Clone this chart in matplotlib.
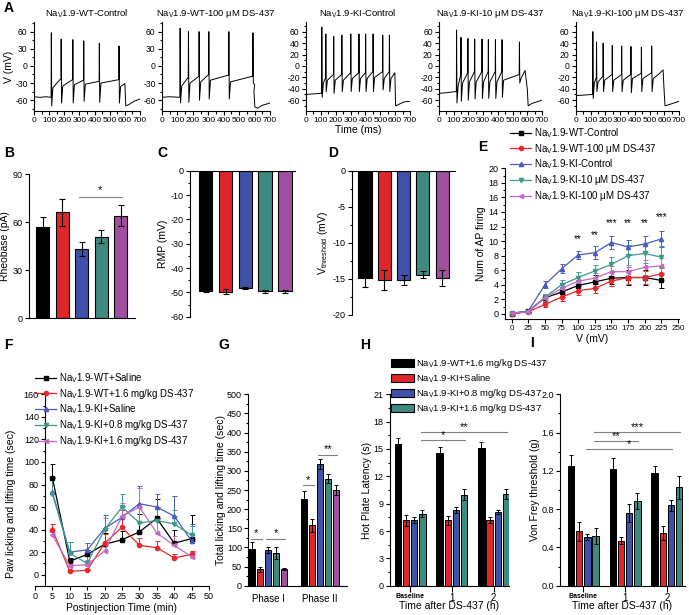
import matplotlib
matplotlib.use('Agg')
import matplotlib.pyplot as plt
from matplotlib.ticker import MultipleLocator, FormatStrFormatter
from matplotlib.patches import Patch
from matplotlib.lines import Line2D
import numpy as np

plt.rcParams['font.family'] = ['Liberation Sans', 'DejaVu Sans']
plt.rcParams['mathtext.fontset'] = 'custom'
plt.rcParams['mathtext.rm'] = 'Liberation Sans'
plt.rcParams['mathtext.it'] = 'Liberation Sans:italic'
plt.rcParams['font.size'] = 6.5
plt.rcParams['axes.linewidth'] = 0.8
plt.rcParams['axes.unicode_minus'] = False

NAV = r'Na$_{\rm V}$1.9'

# ---- A: action potential traces (vertices)
a_titles = [NAV + '-WT-Control', NAV + '-WT-100 μM DS-437', NAV + '-KI-Control',
            NAV + '-KI-10 μM DS-437', NAV + '-KI-100 μM DS-437']
a_head = [[(0, -54), (40, -55), (80, -54), (110, -55)],
          [(0, -55), (50, -54), (112, -55)],
          [(0, -50), (50, -49), (100, -48)],
          [(0, -48), (50, -47), (110, -45)],
          [(0, -52), (60, -51), (110, -50)]]
a_spike_t = [[113, 178, 255, 327, 430, 560],
             [116, 170, 239, 302, 432, 588],
             [105, 132, 185, 240, 300, 355, 400, 450, 515, 560],
             [118, 148, 195, 241, 291, 334, 382, 427, 545],
             [113, 138, 183, 245, 309, 372, 443, 513]]
a_pre = [[-55, -22, -24, -25, -27, -24],
         [-55, -20, -18, -15, -16, -18],
         [-48, -20, -15, -15, -12, -12, -12, -10, -10, -10],
         [-45, -15, -12, -10, -10, -10, -10, -10, -15],
         [-50, -20, -18, -15, -15, -15, -13, -12]]
a_peak = [[58, 47, 46, 44, 40, 35],
          [66, 60, 60, 60, 60, 58],
          [68, 56, 52, 54, 56, 56, 56, 56, 54, 54],
          [63, 50, 48, 47, 47, 46, 46, 46, 42],
          [60, 42, 40, 36, 35, 34, 33, 35]]
a_trough = [[-70, -65, -65, -62, -64, -65],
            [-65, -64, -60, -58, -58, -30],
            [-55, -45, -48, -45, -45, -45, -45, -45, -42, -45],
            [-65, -62, -60, -58, -57, -57, -57, -55, -30],
            [-57, -45, -45, -45, -45, -47, -45, -45]]
a_post = [[-38, -35, -33, -32, -30, -36],
          [-35, -30, -28, -25, -28, -33],
          [-30, -25, -25, -25, -22, -22, -22, -20, -22, -22],
          [-35, -30, -28, -28, -28, -28, -28, -25, -22],
          [-30, -28, -25, -25, -25, -22, -22, -22]]
a_tail = [[(600, -31), (606, -70), (625, -68), (660, -62), (700, -58)],
          [(596, -45), (602, -72), (620, -74), (650, -69), (700, -65)],
          [(598, -12), (603, -70), (620, -68), (660, -63), (700, -62)],
          [(585, -8), (600, -40), (606, -70), (630, -66), (700, -60)],
          [(560, -15), (592, -7), (598, -40), (605, -70), (630, -68), (700, -62)]]

# ---- B, C, D bars (5 groups)
bcd_colors = ['#000000', '#e0262b', '#3f51a8', '#3e8a7e', '#a0509f']
b_vals = [57, 66, 43, 51, 64]
b_err = [6, 8.3, 4.4, 4, 6.5]
c_vals = [-49.4, -49.8, -48.3, -49.6, -49.6]
c_err = [0.6, 1.0, 0.5, 0.7, 0.6]
d_vals = [-14.9, -15.2, -15.1, -14.4, -14.9]
d_err = [1.2, 1.4, 0.7, 0.5, 1.1]

# ---- E: AP firing vs voltage
e_x = [0, 25, 50, 75, 100, 125, 150, 175, 200, 225]
e_labels = [NAV + '-WT-Control', NAV + '-WT-100 μM DS-437', NAV + '-KI-Control',
            NAV + '-KI-10 μM DS-437', NAV + '-KI-100 μM DS-437']
e_vals = [[0, 0.4, 2.2, 3.0, 3.9, 4.4, 4.9, 5.0, 5.0, 4.6],
          [0, 0.3, 1.3, 2.3, 3.2, 3.5, 4.5, 5.0, 5.0, 5.5],
          [0.1, 0.4, 4.0, 6.2, 8.1, 8.4, 9.8, 9.2, 9.6, 10.3],
          [0.1, 0.3, 2.3, 4.0, 5.0, 5.9, 6.8, 8.0, 8.3, 7.8],
          [0.1, 0.3, 2.2, 3.5, 4.5, 4.9, 5.8, 5.8, 6.4, 6.6]]
e_err = [[0.1, 0.2, 0.5, 0.7, 0.8, 0.9, 0.8, 1.0, 1.0, 1.0],
         [0.1, 0.2, 0.4, 0.5, 0.6, 0.6, 0.7, 0.9, 0.9, 0.9],
         [0.1, 0.2, 0.5, 0.6, 0.6, 0.9, 0.9, 1.0, 1.1, 1.1],
         [0.1, 0.2, 0.5, 0.6, 0.7, 0.8, 1.0, 1.5, 1.3, 1.5],
         [0.1, 0.2, 0.5, 0.6, 0.7, 0.7, 0.8, 0.9, 1.0, 1.1]]
e_star_x = [100, 125, 150, 175, 200, 225]
e_star_y = [9.6, 10.2, 11.8, 11.8, 11.8, 12.6]
e_star_txt = ['**', '**', '***', '**', '**', '***']
line_colors = ['#000000', '#e8282b', '#4a5cc0', '#3d9a8a', '#c46ac4']
markers = ['s', 'o', '^', 'v', '<']

# ---- F: formalin time course
f_x = [5, 10, 15, 20, 25, 30, 35, 40, 45]
f_labels = [NAV + '-WT+Saline', NAV + '-WT+1.6 mg/kg DS-437', NAV + '-KI+Saline',
            NAV + '-KI+0.8 mg/kg DS-437', NAV + '-KI+1.6 mg/kg DS-437']
f_vals = [[86, 12, 18, 27, 31, 38, 50, 28, 32],
          [40, 3, 4, 28, 42, 26, 24, 15, 18],
          [73, 20, 22, 41, 51, 63, 60, 52, 30],
          [72, 19, 10, 40, 60, 46, 48, 45, 35],
          [35, 8, 9, 21, 52, 60, 37, 26, 16]]
f_err = [[12, 3, 4, 10, 8, 16, 17, 12, 21],
         [5, 1, 1, 8, 15, 7, 6, 3, 3],
         [14, 9, 6, 12, 10, 16, 12, 18, 15],
         [15, 10, 7, 10, 12, 14, 12, 12, 8],
         [3, 3, 4, 6, 12, 17, 12, 8, 4]]

# ---- G: total licking, phase I / II
g_groups = ['Phase I', 'Phase II']
g_vals = [[97, 227], [43, 158], [94, 317], [86, 280], [43, 250]]
g_err = [[17, 20], [6, 17], [8, 13], [15, 12], [3, 13]]
g_sig = [(0, 0, 1, 122, '*'), (0, 2, 4, 122, '*'), (1, 0, 1, 262, '*'), (1, 2, 4, 342, '**')]

# ---- H, I: hot plate and von Frey
hi_groups = ['Baseline', '1', '2']
hi_labels = [NAV + '-WT+1.6 mg/kg DS-437', NAV + '-KI+Saline',
             NAV + '-KI+0.8 mg/kg DS-437', NAV + '-KI+1.6 mg/kg DS-437']
hi_colors = ['#000000', '#e0262b', '#3f51a8', '#3e8a7e']
h_vals = [[15.5, 14.6, 15.1], [7.2, 7.2, 7.2], [7.2, 8.3, 8.1], [7.9, 10.0, 10.05]]
h_err = [[0.7, 0.6, 0.7], [0.6, 0.5, 0.3], [0.35, 0.3, 0.25], [0.4, 0.6, 0.55]]
h_sig = [(0, 3, 1, 3, 16.0, '*'), (0, 3, 2, 3, 16.9, '**')]
i_vals = [[1.25, 1.22, 1.18], [0.57, 0.47, 0.55], [0.51, 0.76, 0.84], [0.52, 0.885, 1.03]]
i_err = [[0.12, 0.11, 0.075], [0.1, 0.035, 0.07], [0.03, 0.09, 0.06], [0.08, 0.08, 0.12]]
i_sig = [(0, 3, 2, 3, 1.61, '***'), (0, 3, 1, 3, 1.51, '**'), (0, 2, 2, 2, 1.425, '*')]

W, H = 689, 615
fig = plt.figure(figsize=(W / 100, H / 100), dpi=100)


def add_ax(l, t, r, b):
    return fig.add_axes([l / W, 1 - b / H, (r - l) / W, (b - t) / H])


def style(ax, labelsize=6.5):
    ax.spines['top'].set_visible(False)
    ax.spines['right'].set_visible(False)
    ax.tick_params(direction='out', length=3, width=0.8, labelsize=labelsize, pad=1.5)
    ax.tick_params(which='minor', direction='out', length=1.8, width=0.8)


def letter(x, y, s):
    fig.text(x / W, 1 - y / H, s, fontsize=10, fontweight='bold', ha='left', va='center')


def build_trace(i):
    pts = list(a_head[i])
    for k, t in enumerate(a_spike_t[i]):
        pts += [(t, a_pre[i][k]), (t + 1.5, a_peak[i][k]), (t + 4, a_trough[i][k]), (t + 12, a_post[i][k])]
    pts += a_tail[i]
    return [p[0] for p in pts], [p[1] for p in pts]


# ================= A
a_lr = [(34, 140), (162, 270), (306, 410), (439, 542), (576, 679)]
for i in range(5):
    l, r = a_lr[i]
    ax = add_ax(l, 22, r, 111)
    style(ax, 6.2)
    tx, tv = build_trace(i)
    ax.plot(tx, tv, color='k', lw=0.7)
    ax.set_xlim(0, 700)
    ax.set_ylim(-79, 77)
    ax.xaxis.set_major_locator(MultipleLocator(100))
    ax.xaxis.set_minor_locator(MultipleLocator(50))
    ax.tick_params(axis='x', labelsize=6, pad=1)
    if i < 2:
        ax.yaxis.set_major_locator(MultipleLocator(30))
        ax.yaxis.set_minor_locator(MultipleLocator(15))
    else:
        ax.yaxis.set_major_locator(MultipleLocator(20))
        ax.yaxis.set_minor_locator(MultipleLocator(10))
    ax.set_title(a_titles[i], fontsize=6.8, pad=4)
    if i == 0:
        ax.set_ylabel('V (mV)', fontsize=7.5, labelpad=1)
    if i == 2:
        ax.set_xlabel('Time (ms)', fontsize=7.5, labelpad=1)
letter(4, 8, 'A')

# ================= B
x5 = np.arange(5)
ax = add_ax(29, 174, 135, 318.3)
style(ax)
ax.bar(x5, b_vals, width=0.68, color=bcd_colors, edgecolor='k', linewidth=0.8)
ax.errorbar(x5, b_vals, yerr=b_err, fmt='none', ecolor='k', elinewidth=0.8, capsize=2, capthick=0.8)
ax.set_xlim(-0.7, 4.73)
ax.set_ylim(0, 90)
ax.set_yticks([0, 30, 60, 90])
ax.set_xticks([])
ax.plot([1.85, 4.05], [75.6, 75.6], color='#808080', lw=0.8)
ax.text(2.95, 77, '*', ha='center', va='bottom', fontsize=8)
ax.set_ylabel('Rheobase (pA)', fontsize=7.5, labelpad=2)
letter(4, 153, 'B')

# ================= C
ax = add_ax(190, 170.7, 295, 316.7)
ax.spines['bottom'].set_visible(False)
ax.spines['right'].set_visible(False)
ax.tick_params(direction='out', length=3, width=0.8, labelsize=6.5, pad=1.5)
ax.tick_params(which='minor', direction='out', length=1.8, width=0.8)
ax.bar(x5, c_vals, width=0.68, color=bcd_colors, edgecolor='k', linewidth=0.8)
ax.errorbar(x5, c_vals, yerr=c_err, fmt='none', ecolor='k', elinewidth=0.8, capsize=2, capthick=0.8)
ax.set_xlim(-0.79, 4.5)
ax.set_ylim(-60, 0)
ax.yaxis.set_major_locator(MultipleLocator(10))
ax.yaxis.set_minor_locator(MultipleLocator(5))
ax.set_xticks([])
ax.set_ylabel('RMP (mV)', fontsize=7.5, labelpad=2)
letter(157, 153, 'C')

# ================= D
ax = add_ax(352, 170.7, 455, 315)
ax.spines['bottom'].set_visible(False)
ax.spines['right'].set_visible(False)
ax.tick_params(direction='out', length=3, width=0.8, labelsize=6.5, pad=1.5)
ax.tick_params(which='minor', direction='out', length=1.8, width=0.8)
ax.bar(x5, d_vals, width=0.68, color=bcd_colors, edgecolor='k', linewidth=0.8)
ax.errorbar(x5, d_vals, yerr=d_err, fmt='none', ecolor='k', elinewidth=0.8, capsize=2, capthick=0.8)
ax.set_xlim(-0.67, 4.66)
ax.set_ylim(-20, 0)
ax.yaxis.set_major_locator(MultipleLocator(5))
ax.yaxis.set_minor_locator(MultipleLocator(2.5))
ax.set_xticks([])
ax.set_ylabel(r'V$_{\rm threshold}$ (mV)', fontsize=7.5, labelpad=2)
letter(328, 153, 'D')

# ================= E
ax = add_ax(505, 168.3, 679.3, 319)
style(ax)
handles = []
for k in range(5):
    ax.errorbar(e_x, e_vals[k], yerr=e_err[k], color=line_colors[k], marker=markers[k],
                markersize=3, lw=0.9, elinewidth=0.7, capsize=1.8, capthick=0.7)
    handles.append(Line2D([], [], color=line_colors[k], marker=markers[k], markersize=3, lw=0.9))
for sx, sy, st in zip(e_star_x, e_star_y, e_star_txt):
    ax.text(sx, sy, st, ha='center', va='bottom', fontsize=7)
ax.set_xlim(-10, 252)
ax.set_ylim(-0.7, 20)
ax.xaxis.set_major_locator(MultipleLocator(25))
ax.yaxis.set_major_locator(MultipleLocator(2))
ax.yaxis.set_minor_locator(MultipleLocator(1))
ax.tick_params(axis='x', labelsize=5.8)
ax.set_xlabel('V (mV)', fontsize=7.5, labelpad=1)
ax.set_ylabel('Num of AP firing', fontsize=7.5, labelpad=2)
fig.legend(handles, e_labels, loc='upper left', bbox_to_anchor=(510 / W, 1 - 126 / H),
           frameon=False, fontsize=7, handlelength=2.2, handletextpad=0.3,
           labelspacing=0.2, borderpad=0, borderaxespad=0)
letter(478, 147, 'E')

# ================= F
ax = add_ax(35, 394.3, 209, 586)
style(ax)
ax.spines['left'].set_position(('data', 2.9))
handles = []
for k in range(5):
    ax.errorbar(f_x, f_vals[k], yerr=[np.zeros(len(f_err[k])), f_err[k]], color=line_colors[k],
                marker=markers[k], markersize=3, lw=0.9, elinewidth=0.7, capsize=1.8, capthick=0.7)
    handles.append(Line2D([], [], color=line_colors[k], marker=markers[k], markersize=3, lw=0.9))
ax.set_xlim(0, 50)
ax.set_ylim(-10, 160)
ax.xaxis.set_major_locator(MultipleLocator(5))
ax.yaxis.set_major_locator(MultipleLocator(20))
ax.yaxis.set_minor_locator(MultipleLocator(10))
ax.set_xlabel('Postinjection Time (min)', fontsize=7.5, labelpad=1)
ax.set_ylabel('Paw licking and lifting time (sec)', fontsize=7.5, labelpad=1)
ax.yaxis.set_label_coords(-0.11, 0.43)
fig.legend(handles, f_labels, loc='upper left', bbox_to_anchor=(35 / W, 1 - 371 / H),
           frameon=False, fontsize=7, handlelength=2.2, handletextpad=0.3,
           labelspacing=0.2, borderpad=0, borderaxespad=0)
letter(4, 345, 'F')

# ================= G
ax = add_ax(248.3, 394.3, 346.7, 585.7)
style(ax)
g_centers = [0, 6.67]
offs = [-2, -1, 0, 1, 2]
for k in range(5):
    xs = [c + offs[k] for c in g_centers]
    ax.bar(xs, g_vals[k], width=0.78, color=bcd_colors[k], edgecolor='k', linewidth=0.7)
    ax.errorbar(xs, g_vals[k], yerr=g_err[k], fmt='none', ecolor='k', elinewidth=0.7, capsize=1.5, capthick=0.7)
for g, a, b, y, s in g_sig:
    x0, x1 = g_centers[g] + offs[a], g_centers[g] + offs[b]
    ax.plot([x0 - 0.2, x1 + 0.2], [y, y], color='#808080', lw=0.8)
    ax.text((x0 + x1) / 2, y + 2, s, ha='center', va='bottom', fontsize=8)
ax.set_xlim(-2.53, 10.1)
ax.set_ylim(0, 500)
ax.yaxis.set_major_locator(MultipleLocator(50))
ax.yaxis.set_minor_locator(MultipleLocator(25))
ax.set_xticks(g_centers)
ax.set_xticklabels(g_groups, fontsize=7)
ax.tick_params(axis='x', length=0, pad=6)
ax.set_ylabel('Total licking and lifting time (sec)', fontsize=7.5, labelpad=1)
letter(218, 345, 'G')


# ================= H, I
hi_centers = [0, 5.1, 10.2]
hi_offs = [-1.5, -0.5, 0.5, 1.5]


def hi_panel(ax, vals, errs, sigs):
    style(ax)
    for k in range(4):
        xs = [c + hi_offs[k] for c in hi_centers]
        ax.bar(xs, vals[k], width=0.78, color=hi_colors[k], edgecolor='k', linewidth=0.7)
        ax.errorbar(xs, vals[k], yerr=errs[k], fmt='none', ecolor='k', elinewidth=0.7,
                    capsize=1.5, capthick=0.7)
    for ga, ba, gb, bb, y, s in sigs:
        x0 = hi_centers[ga] + hi_offs[ba] - 0.2
        x1 = hi_centers[gb] + hi_offs[bb] + 0.1
        ax.plot([x0, x1], [y, y], color='#808080', lw=0.8)
        ax.text((x0 + x1) / 2, y, s, ha='center', va='bottom', fontsize=8)
    ax.set_xticks(hi_centers)
    ax.set_xticklabels(hi_groups, fontsize=7)
    ax.get_xticklabels()[0].set_fontsize(5)
    ax.get_xticklabels()[0].set_fontweight('bold')
    ax.tick_params(axis='x', length=4, pad=1)
    ax.set_xlabel('Time after DS-437 (h)', fontsize=7.5, labelpad=-1)


ax = add_ax(390, 394.3, 509, 585.7)
hi_panel(ax, h_vals, h_err, h_sig)
ax.set_xlim(-2.44, 12.07)
ax.set_ylim(0, 21)
ax.yaxis.set_major_locator(MultipleLocator(3))
ax.yaxis.set_minor_locator(MultipleLocator(1.5))
ax.set_ylabel('Hot Plate Latency (s)', fontsize=7.5, labelpad=1)
hh = [Patch(facecolor=c, edgecolor='k', linewidth=0.8) for c in hi_colors]
fig.legend(hh, hi_labels, loc='upper left', bbox_to_anchor=(391 / W, 1 - 357 / H),
           frameon=False, fontsize=6.8, handlelength=2.4, handleheight=1.0, handletextpad=0.25,
           labelspacing=0.24, borderpad=0, borderaxespad=0)
letter(360, 345, 'H')

ax = add_ax(560, 394.3, 685, 585.7)
hi_panel(ax, i_vals, i_err, i_sig)
ax.set_xlim(-2.84, 12.4)
ax.set_ylim(0, 2.0)
ax.yaxis.set_major_locator(MultipleLocator(0.4))
ax.yaxis.set_minor_locator(MultipleLocator(0.2))
ax.yaxis.set_major_formatter(FormatStrFormatter('%.1f'))
ax.set_ylabel('Von Frey threshold (g)', fontsize=7.5, labelpad=1)
letter(530, 343, 'I')

fig.savefig('out.png', dpi=100)
